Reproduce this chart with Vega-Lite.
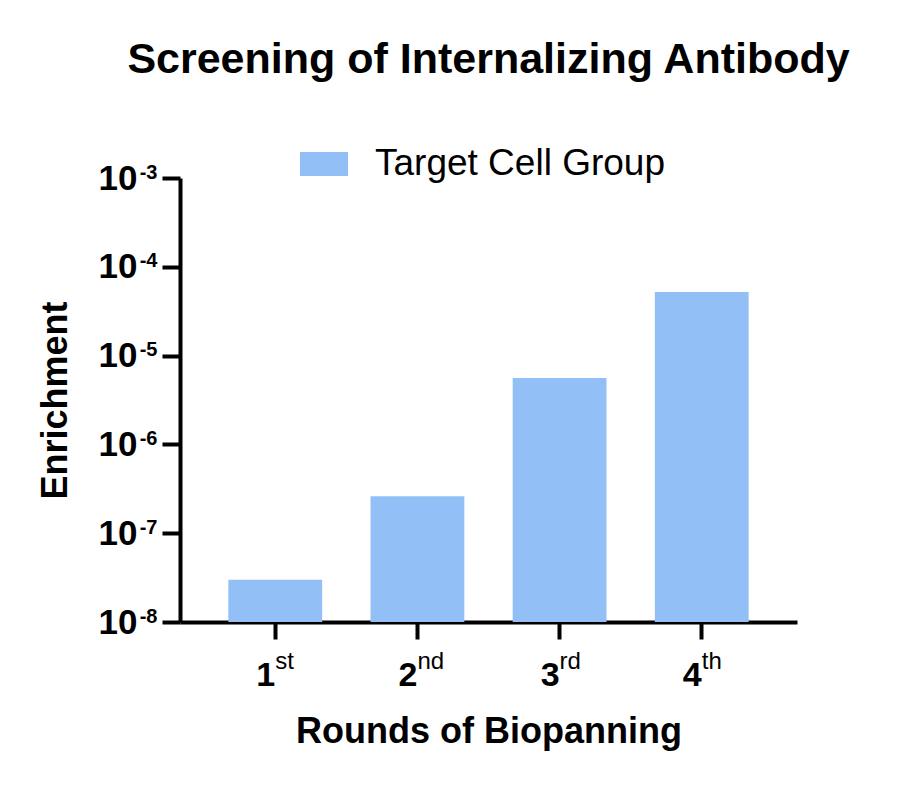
{
  "$schema": "https://vega.github.io/schema/vega-lite/v6.json",
  "autosize": "none",
  "width": 617,
  "height": 444,
  "padding": {"left": 180, "top": 178, "right": 103, "bottom": 166},
  "background": "white",
  "title": {
    "text": "Screening of Internalizing Antibody",
    "font": "Liberation Sans",
    "fontSize": 43,
    "fontWeight": "bold",
    "color": "black",
    "anchor": "middle",
    "offset": 58
  },
  "data": {
    "values": [
      {"round": "1st", "enrichment": 3.0e-8, "group": "Target Cell Group"},
      {"round": "2nd", "enrichment": 2.6e-7, "group": "Target Cell Group"},
      {"round": "3rd", "enrichment": 5.6e-6, "group": "Target Cell Group"},
      {"round": "4th", "enrichment": 5.2e-5, "group": "Target Cell Group"}
    ]
  },
  "layer": [
    {
      "mark": {"type": "bar"},
      "encoding": {
        "x": {
          "field": "round",
          "type": "nominal",
          "sort": null,
          "title": "Rounds of Biopanning",
          "scale": {"paddingInner": 0.34, "paddingOuter": 0.34},
          "axis": {
            "orient": "bottom",
            "labelAngle": 0,
            "labelExpr": "substring(datum.label, 0, 1)",
            "labelFontSize": 34,
            "labelBaseline": "alphabetic",
            "labelAlign": "right",
            "tickSize": 17,
            "labelPadding": 46,
            "titlePadding": 22
          }
        },
        "y": {
          "field": "enrichment",
          "type": "quantitative",
          "title": "Enrichment",
          "scale": {"type": "log", "domain": [1e-8, 1e-3], "nice": false},
          "axis": {
            "orient": "left",
            "values": [1e-8, 1e-7, 1e-6, 1e-5, 1e-4, 1e-3],
            "labelExpr": "'10'",
            "labelFontSize": 35,
            "tickSize": 18,
            "labelPadding": 25,
            "titlePadding": 24
          }
        },
        "y2": {"datum": 1e-8},
        "color": {
          "field": "group",
          "type": "nominal",
          "scale": {"range": ["#93BFF7"]},
          "legend": {
            "title": null,
            "orient": "none",
            "legendX": 120,
            "legendY": -38,
            "symbolType": "M-1,-0.5H1V0.5H-1Z",
            "symbolSize": 2304,
            "symbolStrokeWidth": 0,
            "symbolOpacity": 1,
            "labelFont": "Liberation Sans",
            "labelFontSize": 37,
            "labelLimit": 0,
            "labelColor": "black",
            "labelOffset": 27
          }
        }
      }
    },
    {
      "mark": {"type": "bar", "opacity": 0},
      "encoding": {
        "x": {
          "field": "round",
          "type": "nominal",
          "sort": null,
          "axis": {
            "orient": "bottom",
            "title": null,
            "domain": false,
            "tickOpacity": 0,
            "labelAngle": 0,
            "labelExpr": "substring(datum.label, 1)",
            "labelFontSize": 24,
            "labelFontWeight": "normal",
            "labelBaseline": "alphabetic",
            "labelAlign": "left",
            "tickSize": 17,
            "labelPadding": 29
          }
        },
        "y": {
          "field": "enrichment",
          "type": "quantitative",
          "axis": {
            "orient": "left",
            "title": null,
            "domain": false,
            "tickOpacity": 0,
            "values": [1e-8, 1e-7, 1e-6, 1e-5, 1e-4, 1e-3],
            "labelExpr": "'-' + round(-log(datum.value) / LN10)",
            "labelFontSize": 20,
            "labelBaseline": "alphabetic",
            "tickSize": 18,
            "labelPadding": 5
          }
        },
        "y2": {"datum": 1e-8}
      }
    }
  ],
  "resolve": {"axis": {"x": "independent", "y": "independent"}},
  "config": {
    "view": {"stroke": null},
    "axis": {
      "domainColor": "black",
      "domainWidth": 4,
      "tickColor": "black",
      "tickWidth": 4,
      "grid": false,
      "labelFont": "Liberation Sans",
      "labelFontWeight": "bold",
      "labelColor": "black",
      "titleFont": "Liberation Sans",
      "titleFontSize": 36,
      "titleFontWeight": "bold",
      "titleColor": "black"
    }
  }
}
